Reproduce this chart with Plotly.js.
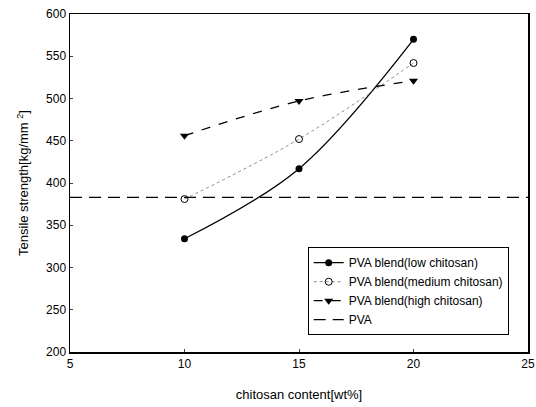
<!DOCTYPE html>
<html><head><meta charset="utf-8">
<script src="https://cdn.plot.ly/plotly-3.0.1.min.js"></script>
<style>html,body{margin:0;padding:0;background:#fff}#chart{width:536px;height:407px}</style>
</head><body><div id="chart"></div>
<script>
const content = [10, 15, 20];
const lowChitosan = [334, 417, 570];
const mediumChitosan = [381, 452, 542];
const highChitosan = [456, 497, 521];
const pvaX = [5, 25];
const pvaY = [383, 383];
const xTicks = [5, 10, 15, 20, 25];
const yTicks = [200, 250, 300, 350, 400, 450, 500, 550, 600];

const traces = [
  {x: content, y: lowChitosan, name: 'PVA blend(low chitosan)', mode: 'lines+markers',
   line: {color: '#000', width: 1.3, shape: 'spline'}, marker: {symbol: 'circle', size: 7, color: '#000'}},
  {x: content, y: mediumChitosan, name: 'PVA blend(medium chitosan)', mode: 'lines+markers',
   line: {color: '#888', width: 1, dash: 'dot', shape: 'spline'},
   marker: {symbol: 'circle-open', size: 7, color: '#000', line: {width: 1}}},
  {x: content, y: highChitosan, name: 'PVA blend(high chitosan)', mode: 'lines+markers',
   line: {color: '#000', width: 1.3, dash: 'dash', shape: 'spline'}, marker: {symbol: 'triangle-down', size: 8, color: '#000'}},
  {x: pvaX, y: pvaY, name: 'PVA', mode: 'lines',
   line: {color: '#000', width: 1.3, dash: '12px,7px'}}
];

const layout = {
  width: 536, height: 407,
  margin: {l: 70, r: 8, t: 14, b: 55},
  paper_bgcolor: '#fff', plot_bgcolor: '#fff',
  font: {family: 'Liberation Sans, Arial, sans-serif', color: '#000', size: 12},
  showlegend: true,
  legend: {x: 0.519, y: 0.31, xanchor: 'left', yanchor: 'top', bordercolor: '#000', borderwidth: 1,
           bgcolor: '#fff', font: {size: 12}, tracegroupgap: 0},
  xaxis: {range: [5, 25], tickvals: xTicks, ticks: 'inside', ticklen: 3, showgrid: false, zeroline: false,
          showline: true, linecolor: '#000', linewidth: 1.5, mirror: true,
          title: {text: 'chitosan content[wt%]', font: {size: 13}, standoff: 20}},
  yaxis: {range: [200, 600], tickvals: yTicks, ticks: 'inside', ticklen: 3, showgrid: false, zeroline: false,
          showline: true, linecolor: '#000', linewidth: 1.5, mirror: true,
          title: {text: 'Tensile strength[kg/mm <sup>2</sup>]', font: {size: 13}, standoff: 14}}
};
Plotly.newPlot('chart', traces, layout, {displayModeBar: false, staticPlot: true});
</script></body></html>
